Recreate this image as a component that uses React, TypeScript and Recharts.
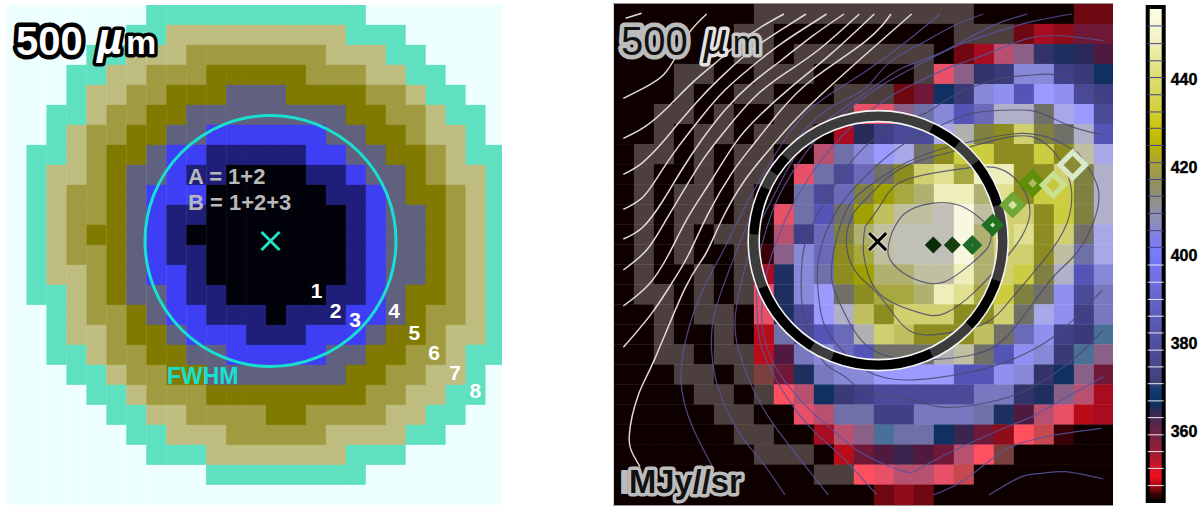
import React from "react";
import {
  Bar,
  ComposedChart,
  ReferenceLine,
  Scatter,
  ScatterChart,
  XAxis,
  YAxis,
} from "recharts";

const FONT = "'Liberation Sans', Arial, sans-serif";

// Left map: aperture rings, one digit per cell (spaces are only for reading)
const ringRows = [
  "8888888 77777777777 8888888",
  "888888 77 666666666 777 88888",
  "8888 77 666 5555555 666 77 8888",
  "888 77 66 555 44444 555 66 77 888",
  "888 7 66 55 444 333 4444 55 6 77 88",
  "88 77 6 55 44 33333333 44 55 6 77 8",
  "88 7 6 55 44 33 222222 33 44 5 66 7 8",
  "8 77 6 5 44 3 22 11111 22 33 44 5 6 77",
  "8 7 66 5 4 33 2 11 0000 11 2 33 4 5 66 7",
  "8 7 6 55 4 3 222 000000 11 2 3 44 5 6 7",
  "8 7 6 55 4 3 2 11 0000000 1 2 33 4 5 6 7",
  "8 7 6 5 44 3 2 1 00000000 1 2 33 4 5 6 7",
  "8 7 6 55 4 3 2 11 0000000 1 2 33 4 5 6 7",
  "8 7 66 5 4 3 22 1 0000000 1 2 33 4 5 6 7",
  "8 77 6 5 4 33 2 11 00000 11 2 3 44 5 6 7",
  "88 7 6 55 4 3 22 111 0 111 22 3 4 55 6 7",
  "88 7 66 5 44 3 222 111 222 3 44 5 66 7",
  "88 77 6 55 44 33 22222 33 44 55 6 77",
  "888 77 6 55 44 3333333 44 55 66 7 8",
  "8888 77 6 555 44444444 55 66 77 8",
  "88888 77 66 5555 44 5555 66 77 88",
  "888888 77 666 55555 6666 77 888",
  "8888888 777 6666666 777 88888",
  "8888888888 77777777 8888888",
  "8888888888888888888888888",
];
const ringPalette = [
  "#02020a", "#1f1f7a", "#3e3ef5", "#60607f", "#807a00",
  "#a09a40", "#bfbc80", "#5fe0c0", "#eeffff",
];

// Right map: surface brightness read as a colour-level code per cell
const fluxRows = [
  "KKKKKKK BBBBBBBBBBB KKKKK bb",
  "KKKKKK BB KKKKKKKKK BBB b d c l l",
  "KKKKKK BB K BBBBBBB K b d j k s p o m",
  "KKK BB KK BBB KKKKK B h k s t A A u t q",
  "KKK B KK BB KKK BBB b l q t A C w D C v u",
  "KK BB K B KK BBBB h h k y A w x F F H E D v",
  "KK B K BB K B BB K d o u v v E G I J Q I H F w",
  "K BB K B K BB KK j y A D E H J P P J J P J T E",
  "K B KK B K BB K h y v x H J Q R M S S J J Q I F",
  "K B K BB K B KK y v x I L M N S S N R J P P I F",
  "K B K BB K B K h y w H L O T T U V T Q Q J P I F",
  "K B K B K BB K j u x I N T U U U V N Q R J Q H E",
  "K B K B KK B a k A x J M T U U U V N Q Q J T y E",
  "K B KK B K B d p A y J L N N T T S N Q P I F w A",
  "K BB K B K B h p A D H J M M N S R M P I H C v z",
  "KK B K BB K h p v D F O J Q Q Q J J Q H E C u z",
  "KK B KK B K e y v w x G Q O J J J O H x C u t r",
  "KK BB K BB e m z A x w H H H G T H w C A t r k",
  "KKK BB K B f l p z A A D D D D w w C A s q k l",
  "KKKK BB K B i j q t u v v v v v z z s p k j d",
  "KKKKK BB KK h j y y u u z z z y p m j h e d",
  "KKKKKK BB KK d j k r y y q n l c i g a KK",
  "KKKKKKK BBB K e l m n m l j i f KKKKK",
  "KKKKKKKKKK BB i h j j h g KKKKKKK",
  "KKKKKKKKKKKKK b c b KKKKKKKKK",
];
const fluxPalette: Record<string, string> = {
  K: "#0f0000", B: "#4e3f3f", a: "#3a0008", b: "#6f0810", c: "#900c18", d: "#a80c20",
  e: "#b80c18", f: "#7a4040", g: "#c84850", h: "#e85068", i: "#ff5060", j: "#b85070",
  k: "#8a6088", l: "#701838", m: "#501a40", n: "#3a2550", o: "#2a2a5a", p: "#1f3060",
  q: "#0f3060", r: "#4a7098", s: "#33336a", t: "#3a3a78", u: "#404088", v: "#4a4a98",
  w: "#5555b8", x: "#6a6ab8", y: "#7070a8", z: "#7878c0", A: "#8888d8", C: "#9090f0",
  D: "#9a9aff", E: "#a8a8e8", F: "#b0b0c8", G: "#b0b0b0", H: "#707068", I: "#808040",
  J: "#8c8c20", L: "#a0a000", M: "#a8a840", N: "#b0b070", O: "#c0c060", P: "#cccc40",
  Q: "#d0d070", R: "#e0e090", S: "#eeeebb", T: "#c0c0a0", U: "#c0c0b8", V: "#f8f8e0",
};

// Polarisation / intensity contours in map units (3 units = 1 px)
const whiteContours = [
  [[62, 55], [110, 40]],
  [[55, 295], [120, 262], [175, 225], [215, 165], [255, 95], [305, 42]],
  [[55, 415], [120, 380], [190, 320], [260, 250], [330, 190], [400, 130], [470, 80], [537, 42]],
  [[55, 523], [110, 490], [170, 430], [220, 370], [290, 290], [360, 220], [440, 150], [520, 95], [603, 42]],
  [[55, 628], [115, 590], [165, 520], [220, 440], [290, 350], [360, 270], [440, 200], [530, 130], [665, 42]],
  [[55, 717], [115, 680], [175, 600], [230, 510], [290, 420], [360, 330], [440, 250], [530, 180], [620, 110], [717, 42]],
  [[55, 810], [125, 750], [180, 665], [240, 565], [300, 470], [370, 380], [450, 290], [540, 220], [640, 150], [763, 42]],
  [[55, 918], [130, 855], [190, 765], [250, 650], [320, 540], [390, 430], [460, 350], [560, 260], [680, 160], [808, 42]],
  [[55, 1042], [140, 940], [200, 850], [250, 765], [310, 640], [380, 520], [440, 440], [520, 340], [620, 240], [780, 125], [858, 42]],
  [[105, 1400], [85, 1365], [73, 1305], [100, 1185], [150, 1075], [240, 865], [300, 765], [350, 660], [420, 540], [500, 440], [600, 330], [780, 165], [920, 42]],
];
const blueContours = [
  [[1005, 42], [910, 120], [780, 215], [650, 300], [560, 390], [470, 530], [410, 640], [348, 765], [280, 900], [235, 1055], [230, 1165], [260, 1275], [325, 1405]],
  [[1135, 42], [1040, 80], [950, 130], [850, 190], [780, 265], [680, 320], [590, 400], [500, 520], [440, 640], [390, 765], [330, 935], [320, 1055], [340, 1165], [400, 1295], [470, 1385], [540, 1485]],
  [[1268, 42], [1180, 70], [1080, 120], [980, 170], [880, 210], [780, 280], [680, 350], [590, 440], [520, 560], [460, 680], [430, 765], [395, 915], [395, 1025], [430, 1135], [500, 1265], [670, 1485]],
  [[1400, 42], [1280, 65], [1160, 100], [1050, 140], [950, 190], [840, 250], [740, 320], [650, 400], [560, 520], [500, 640], [460, 780], [455, 865], [460, 995], [500, 1115], [600, 1265], [700, 1360], [780, 1445], [815, 1483]],
  [[1495, 122], [1380, 108], [1270, 115], [1150, 160], [1040, 200], [930, 250], [840, 300], [740, 380], [650, 480], [560, 620], [500, 765], [480, 845], [470, 945], [490, 1055], [540, 1145], [620, 1235], [700, 1305], [780, 1365], [900, 1415], [980, 1385], [1220, 1275], [1290, 1245], [1495, 1130]],
  [[985, 1485], [1070, 1445], [1150, 1385], [1210, 1345], [1280, 1320], [1380, 1300], [1490, 1285]],
  [[1152, 1485], [1250, 1430], [1310, 1420], [1380, 1415], [1495, 1437]],
];
const innerContours = [
  [[1495, 320], [1460, 285], [1370, 230], [1280, 225], [1170, 240], [1040, 290], [960, 340], [860, 380], [760, 460], [680, 570], [610, 700], [590, 800], [590, 900], [610, 1000], [660, 1090], [720, 1130], [780, 1175], [880, 1190], [1000, 1220], [1110, 1215], [1230, 1185], [1335, 1130], [1420, 1065], [1495, 990]],
  [[1495, 405], [1400, 380], [1310, 340], [1230, 330], [1100, 340], [1000, 380], [900, 430], [790, 520], [690, 640], [640, 780], [640, 880], [660, 980], [720, 1060], [780, 1110], [900, 1140], [1100, 1115], [1230, 1075], [1340, 1015], [1430, 935], [1492, 870]],
  [[1420, 460], [1480, 570], [1460, 680], [1410, 765], [1350, 825], [1280, 915], [1210, 1005], [1100, 1065], [880, 1075], [760, 1010], [700, 900], [680, 800], [720, 640], [790, 560], [880, 500], [1000, 450], [1120, 420], [1250, 400], [1350, 420], [1420, 460]],
  [[780, 600], [840, 540], [920, 490], [1060, 450], [1220, 410], [1320, 430], [1390, 530], [1395, 640], [1340, 750], [1220, 895], [1140, 970], [1020, 1000], [910, 990], [830, 895], [760, 825], [725, 740], [740, 650], [780, 600]],
  [[780, 680], [830, 610], [880, 550], [980, 520], [1080, 505], [1180, 505], [1250, 560], [1275, 640], [1250, 710], [1210, 765], [1110, 875], [1020, 940], [950, 940], [840, 895], [790, 825], [775, 750], [780, 680]],
  [[860, 700], [900, 640], [980, 610], [1060, 615], [1120, 650], [1155, 690], [1150, 740], [1100, 790], [1020, 845], [950, 845], [890, 815], [850, 765], [860, 700]],
];

// Positions along the jet, faint to bright
const diamondX = [985, 1042, 1102, 1163, 1223, 1283, 1345, 1403];
const diamondY = [735, 735, 735, 675, 615, 550, 555, 495];
const diamondRadius = [8.5, 8.5, 10, 11.5, 13.5, 14.5, 14.5, 16.5];
const diamondColors = ["#0c2c08", "#173f12", "#1e6a26", "#1f7020", "#70a838", "#5f8f08", "#c8e090", "#d8e8c8"];
const diamondCentres = ["", "", "#5f8f58", "#d8e0c0", "#d8e0a0", "#b0b860", "#c8c840", "#8a8a38"];
const diamondInner = [0, 0, 1.5, 2.5, 4.5, 4.5, 7, 9];

// Beam circle, black arcs of the band in degrees clockwise from 3 o'clock
const beamArcs = [[18.5, 43], [64.8, 111.5], [122, 158], [183, 205], [213, 222], [295.4, 309.5], [321.3, 343.5]];

// Colour bar
const barTicks = [360, 380, 400, 420, 440];
const barDarkLines = [452, 448, 444.1, 440.3, 436.4, 432.5, 428.8, 424.9, 421, 417.2, 413.4, 409.5, 405.6, 401.8];
const barLightLines = [397.8, 393.9, 390, 386.2, 382.4, 378.5, 374.7, 370.9, 367, 363.2, 359.3, 355.5, 351.7, 347.8];
const barValues = [456.3, 450, 445, 440, 433, 428, 424, 420, 416, 412, 408, 404, 400, 395, 388, 380, 374, 371, 369.5, 366, 364, 361, 358, 355, 352, 350, 347.5, 346, 344.3];
const barColors = ["#fdfdea", "#f4f4cc", "#e8e89a", "#dcdc70", "#d4d040", "#c8c000", "#b8b010", "#a8a040", "#908f60", "#909090", "#8f8fb8", "#8080e8", "#7878ff", "#7070e0", "#6060c0", "#5050a0", "#454585", "#404078", "#0f3a70", "#103060", "#3a2a55", "#60244a", "#80203f", "#a01c30", "#d01528", "#f01020", "#a00810", "#400404", "#100000"];

const toCells = (rows: string[], x0: number, y0: number, dx: number, dy: number) =>
  rows.flatMap((row, r) =>
    [...row.replace(/ /g, "")].map((code, c) => ({
      x: x0 + dx * (c + 0.5),
      y: y0 + dy * (r + 0.5),
      code,
    }))
  );

const ringCells = toCells(ringRows, 6.7, 5, 19.96, 20);
const fluxCells = toCells(fluxRows, 27, 12, 60, 60.1);

const cellShape = (w: number, h: number, colorOf: (code: string) => string) => (p: any) => (
  <rect
    x={p.cx - w / 2}
    y={p.cy - h / 2}
    width={w}
    height={h}
    fill={colorOf(p.payload.code)}
  />
);

const NoDot = () => <g />;

const textShape = (style: any) => (p: any) => (
  <text x={p.cx} y={p.cy} fontFamily={FONT} paintOrder="stroke" strokeLinejoin="round" {...style}>
    {p.payload.label}
  </text>
);

const crossShape = (half: number, color: string, width: number, halo?: string) => (p: any) => {
  const d = `M${p.cx - half},${p.cy - half}L${p.cx + half},${p.cy + half}M${p.cx - half},${p.cy + half}L${p.cx + half},${p.cy - half}`;
  return (
    <g fill="none">
      {halo && <path d={d} stroke={halo} strokeWidth={width + 2.5} />}
      <path d={d} stroke={color} strokeWidth={width} />
    </g>
  );
};

const diamondShape = (p: any) => {
  const i = p.payload.index;
  const points = (q: number) =>
    `${p.cx},${p.cy - q} ${p.cx + q},${p.cy} ${p.cx},${p.cy + q} ${p.cx - q},${p.cy}`;
  return (
    <g>
      <polygon points={points(diamondRadius[i])} fill={diamondColors[i]} />
      {diamondInner[i] > 0 && <polygon points={points(diamondInner[i])} fill={diamondCentres[i]} />}
    </g>
  );
};

const circleShape = (r: number, color: string, width: number) => (p: any) => (
  <circle cx={p.cx} cy={p.cy} r={r} fill="none" stroke={color} strokeWidth={width} />
);

// the band is gray with black arcs, the dash pattern is given in degrees
const beamDash = (() => {
  const parts = [0];
  let last = 0;
  beamArcs.forEach(([from, to]) => {
    parts.push(from - last, to - from);
    last = to;
  });
  parts.push(360 - last);
  return parts.join(" ");
})();

const beamShape = (p: any) => (
  <g fill="none">
    <circle cx={p.cx} cy={p.cy} r={124.5} stroke="#3c3c3c" strokeWidth={11} />
    <circle cx={p.cx} cy={p.cy} r={124.5} stroke="#000" strokeWidth={11} pathLength={360} strokeDasharray={beamDash} />
    <circle cx={p.cx} cy={p.cy} r={130} stroke="#f4f4f4" strokeWidth={1.6} />
    <circle cx={p.cx} cy={p.cy} r={119} stroke="#f4f4f4" strokeWidth={1.6} />
  </g>
);

const toPoints = (line: number[][]) => line.map(([x, y]) => ({ x, y }));
const diamonds = diamondX.map((x, i) => ({ x, y: diamondY[i], index: i }));

const contourSeries = (lines: number[][][], stroke: string, width: number, opacity: number, name: string) =>
  lines.map((line, i) => (
    <Scatter
      key={`${name}-${i}`}
      data={toPoints(line)}
      shape={NoDot}
      line={{ stroke, strokeWidth: width, strokeOpacity: opacity }}
      lineJointType="natural"
      isAnimationActive={false}
    />
  ));

function RingMap() {
  return (
    <ScatterChart width={496.3} height={500} margin={{ top: 0, right: 0, bottom: 0, left: 0 }}>
      <XAxis type="number" dataKey="x" domain={[6, 502.3]} hide allowDataOverflow />
      <YAxis type="number" dataKey="y" domain={[5, 505]} reversed hide allowDataOverflow />
      <Scatter
        data={ringCells}
        shape={cellShape(20.3, 20.3, (code) => ringPalette[Number(code)])}
        isAnimationActive={false}
      />
      <Scatter data={[{ x: 270.5, y: 241 }]} shape={circleShape(125.5, "#18e0d0", 3)} isAnimationActive={false} />
      <Scatter data={[{ x: 270.5, y: 241 }]} shape={crossShape(9, "#22e0c0", 3)} isAnimationActive={false} />
      <Scatter
        data={[{ x: 16, y: 55, label: "500" }]}
        shape={textShape({ fontSize: 40, fontWeight: 700, fill: "#fff", stroke: "#000", strokeWidth: 9 })}
        isAnimationActive={false}
      />
      <Scatter
        data={[{ x: 97, y: 54, label: "µ" }]}
        shape={textShape({ fontSize: 44, fontWeight: 700, fontStyle: "italic", fill: "#fff", stroke: "#000", strokeWidth: 7 })}
        isAnimationActive={false}
      />
      <Scatter
        data={[{ x: 126, y: 54, label: "m" }]}
        shape={textShape({ fontSize: 34, fontWeight: 700, fill: "#fff", stroke: "#000", strokeWidth: 7 })}
        isAnimationActive={false}
      />
      <Scatter
        data={[
          { x: 188, y: 184, label: "A = 1+2" },
          { x: 188, y: 210, label: "B = 1+2+3" },
        ]}
        shape={textShape({ fontSize: 22, fontWeight: 700, fill: "#b8b8b8" })}
        isAnimationActive={false}
      />
      <Scatter
        data={[{ x: 167, y: 384, label: "FWHM" }]}
        shape={textShape({ fontSize: 23, fontWeight: 700, fill: "#18e0d0" })}
        isAnimationActive={false}
      />
      <Scatter
        data={[
          { x: 316.7, y: 298, label: "1" },
          { x: 335.7, y: 318, label: "2" },
          { x: 355, y: 327, label: "3" },
          { x: 394, y: 318, label: "4" },
          { x: 414.3, y: 340, label: "5" },
          { x: 434, y: 360, label: "6" },
          { x: 455, y: 380, label: "7" },
          { x: 475.3, y: 398, label: "8" },
        ]}
        shape={textShape({ fontSize: 21, fontWeight: 700, fill: "#fff", textAnchor: "middle" })}
        isAnimationActive={false}
      />
    </ScatterChart>
  );
}

function FluxMap() {
  return (
    <ScatterChart width={500.3} height={501} margin={{ top: 0, right: 0, bottom: 0, left: 0 }}>
      <XAxis type="number" dataKey="x" domain={[24, 1525]} hide allowDataOverflow />
      <YAxis type="number" dataKey="y" domain={[12, 1515]} reversed hide allowDataOverflow />
      <Scatter
        data={fluxCells}
        shape={cellShape(20.3, 20.4, (code) => fluxPalette[code])}
        isAnimationActive={false}
      />
      {contourSeries(whiteContours, "#dcdcd4", 1.5, 1, "white")}
      {contourSeries(blueContours, "#55559e", 1.2, 0.85, "blue")}
      {contourSeries(innerContours, "#4a4a70", 1.2, 0.85, "inner")}
      <Scatter data={[{ x: 819.6, y: 722 }]} shape={beamShape} isAnimationActive={false} />
      <Scatter data={[{ x: 818, y: 725 }]} shape={crossShape(8.5, "#000", 3, "#d8d8d0")} isAnimationActive={false} />
      <Scatter data={diamonds} shape={diamondShape} isAnimationActive={false} />
      <Scatter
        data={[{ x: 48, y: 165, label: "500" }]}
        shape={textShape({ fontSize: 40, fill: "#111", stroke: "#bcbcbc", strokeWidth: 9 })}
        isAnimationActive={false}
      />
      <Scatter
        data={[{ x: 293, y: 162, label: "µ" }]}
        shape={textShape({ fontSize: 44, fontStyle: "italic", fill: "#111", stroke: "#e4e4e4", strokeWidth: 7 })}
        isAnimationActive={false}
      />
      <Scatter
        data={[{ x: 383, y: 162, label: "m" }]}
        shape={textShape({ fontSize: 34, fill: "#111", stroke: "#c8c8c8", strokeWidth: 7 })}
        isAnimationActive={false}
      />
      <Scatter
        data={[{ x: 45, y: 1480, label: "I" }]}
        shape={textShape({ fontSize: 32, fontWeight: 700, fill: "#bcbcbc", stroke: "#bcbcbc", strokeWidth: 2 })}
        isAnimationActive={false}
      />
      <Scatter
        data={[{ x: 72, y: 1480, label: "MJy//sr" }]}
        shape={textShape({ fontSize: 32.7, fontWeight: 700, fill: "#111", stroke: "#bcbcbc", strokeWidth: 7 })}
        isAnimationActive={false}
      />
    </ScatterChart>
  );
}

function ColorBar() {
  return (
    <ComposedChart
      width={75}
      height={510}
      data={[{ name: "MJy/sr", span: [344.3, 456.3] }]}
      barCategoryGap={0}
      margin={{ top: 7, right: 0, bottom: 9, left: 22.7 }}
    >
      <defs>
        <linearGradient id="fluxScale" x1="0" y1="0" x2="0" y2="1">
          {barValues.map((v, i) => (
            <stop key={v} offset={(456.3 - v) / 112} stopColor={barColors[i]} />
          ))}
        </linearGradient>
      </defs>
      <XAxis dataKey="name" hide />
      <YAxis
        orientation="right"
        type="number"
        width={36.3}
        domain={[344.3, 456.3]}
        ticks={barTicks}
        interval={0}
        axisLine={false}
        tickLine={false}
        tickMargin={1}
        tick={{ fontSize: 16, fontWeight: 700, fill: "#000", stroke: "#000", strokeWidth: 0.4, fontFamily: FONT }}
      />
      <Bar dataKey="span" fill="url(#fluxScale)" stroke="#000" strokeWidth={4} isAnimationActive={false} />
      {barDarkLines.map((v) => (
        <ReferenceLine key={v} y={v} stroke="#44448a" strokeWidth={1} />
      ))}
      {barLightLines.map((v) => (
        <ReferenceLine key={v} y={v} stroke="#e8e8f0" strokeWidth={1} />
      ))}
    </ComposedChart>
  );
}

export default function App() {
  return (
    <div style={{ position: "absolute", left: 0, top: 0, width: 1200, height: 510, background: "#fff", overflow: "hidden" }}>
      <div style={{ position: "absolute", left: 6, top: 5 }}>
        <RingMap />
      </div>
      <div style={{ position: "absolute", left: 613, top: 3, borderTop: "1px solid #9a9090", borderBottom: "1px solid #9a9090" }}>
        <FluxMap />
      </div>
      <div style={{ position: "absolute", left: 1125, top: 0 }}>
        <ColorBar />
      </div>
    </div>
  );
}
